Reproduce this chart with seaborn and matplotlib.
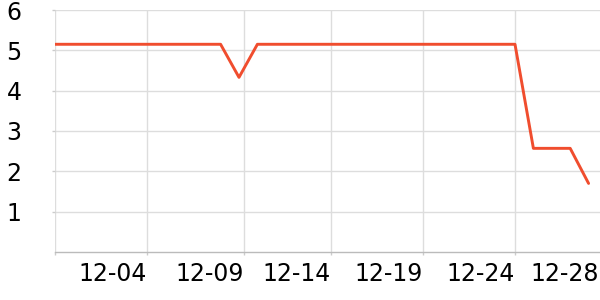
import matplotlib
matplotlib.use("Agg")
import matplotlib.pyplot as plt
import seaborn as sns
import numpy as np
import pandas as pd

dates = [f"12-{d:02d}" for d in range(1, 31)]
values = [5.15] * 10 + [4.33] + [5.15] * 15 + [2.57, 2.57, 2.57, 1.7]
tick_labels = ["", "12-04", "12-09", "12-14", "12-19", "12-24", "12-28"]
y_ticks = [1, 2, 3, 4, 5, 6]

df = pd.DataFrame({"date": dates, "value": values})
df["idx"] = np.arange(len(df))

sns.set_theme(style="white")
plt.rcParams['font.family'] = ['DejaVu Sans']

fig = plt.figure(figsize=(6, 3), dpi=100)
ax = fig.add_axes([55 / 600, 1 - 252 / 300, 545 / 600, 242 / 300])

sns.lineplot(data=df, x="idx", y="value", ax=ax, color="#f04d2e", linewidth=2.1)

grid_pos = [0, 5, 10.27, 15, 20, 25, 29.58]
ax.set_xlim(0, 29.62)
ax.set_ylim(0, 6)
ax.set_xticks(grid_pos)
ax.set_xticklabels(tick_labels, ha="right", fontsize=17)
ax.set_yticks(y_ticks)
ax.set_yticklabels([str(v) for v in y_ticks], fontsize=17)

ax.grid(True, color="#dddddd", linewidth=1)
ax.set_axisbelow(True)

for s in ["top", "right", "left"]:
    ax.spines[s].set_visible(False)
ax.spines["bottom"].set_color("#bbbbbb")
ax.spines["bottom"].set_linewidth(1)

ax.tick_params(axis="x", bottom=True, length=2.5, width=1, color="#cccccc", pad=5, labelcolor="black")
ax.tick_params(axis="y", left=True, length=2.2, width=1, color="#cccccc", pad=22, labelcolor="black")
ax.set_xlabel("")
ax.set_ylabel("")

last = ax.xaxis.get_major_ticks()[-1]
last.tick1line.set_visible(False)
last.gridline.set_visible(False)

fig.savefig("out.png", dpi=100)
